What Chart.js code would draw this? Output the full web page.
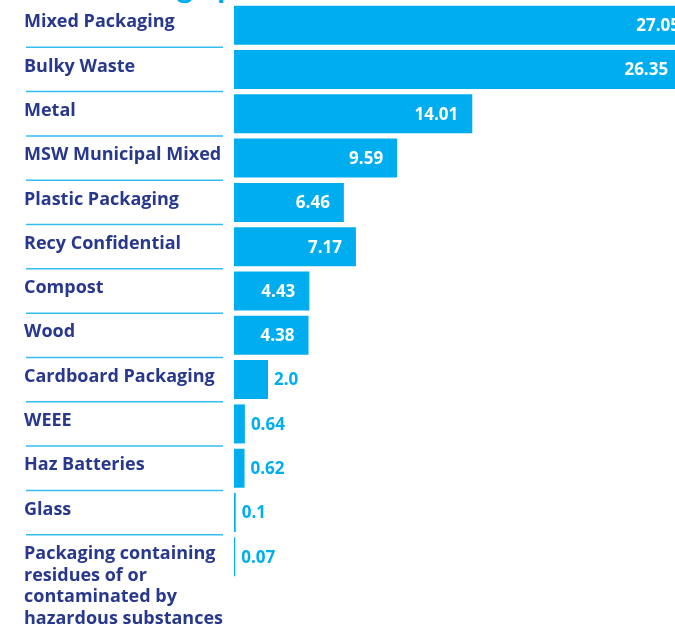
<!DOCTYPE html>
<html>
<head>
<meta charset="utf-8">
<script src="https://cdn.jsdelivr.net/npm/chart.js@4.4.0/dist/chart.umd.min.js"></script>
<style>
    html, body { margin: 0; padding: 0; background: #fff; overflow: hidden; }
    #wrap { position: relative; width: 675px; height: 624px; overflow: hidden; }
    #title { position: absolute; left: 0; top: -34px; font: bold 28px "Open Sans"; color: #00aeef; white-space: nowrap; }
    #chart-box { position: absolute; left: 0; top: 0; width: 700px; height: 624px; }
</style>
</head>
<body>
<div id="wrap">
    <div id="title">Waste tonnage per material (tonnes)</div>
    <div id="chart-box"><canvas id="wasteChart"></canvas></div>
</div>
<script>
// Tonnes collected per waste stream
const materials = [
    'Mixed Packaging',
    'Bulky Waste',
    'Metal',
    'MSW Municipal Mixed',
    'Plastic Packaging',
    'Recy Confidential',
    'Compost',
    'Wood',
    'Cardboard Packaging',
    'WEEE',
    'Haz Batteries',
    'Glass',
    ['Packaging containing', 'residues of or', 'contaminated by', 'hazardous substances']
];
const tonnes = [27.05, 26.35, 14.01, 9.59, 6.46, 7.17, 4.43, 4.38, 2.0, 0.64, 0.62, 0.1, 0.07];

const barBlue = '#00aeef';
const navy = '#28388c';

// labels like 2.0 keep their decimal
const valueText = tonnes.map(v => Number.isInteger(v) ? v.toFixed(1) : String(v));

const valueLabels = {
    id: 'valueLabels',
    afterDatasetsDraw(chart) {
        const ctx = chart.ctx;
        const meta = chart.getDatasetMeta(0);
        ctx.save();
        ctx.font = 'bold 17px "Open Sans"';
        ctx.textBaseline = 'middle';
        meta.data.forEach((bar, i) => {
            const w = bar.x - bar.base;
            if (w > 60) {
                ctx.fillStyle = '#ffffff';
                ctx.textAlign = 'right';
                ctx.fillText(valueText[i], bar.x - 14, bar.y + 1);
            } else {
                ctx.fillStyle = barBlue;
                ctx.textAlign = 'left';
                ctx.fillText(valueText[i], bar.x + 6, bar.y + 1);
            }
        });
        ctx.restore();
    }
};

// thin rules between the category names
const rowRules = {
    id: 'rowRules',
    afterDraw(chart) {
        const ctx = chart.ctx;
        const y = chart.scales.y;
        ctx.save();
        ctx.strokeStyle = '#35bdf1';
        ctx.lineWidth = 1.5;
        for (let i = 0; i < materials.length - 1; i++) {
            const py = (y.getPixelForValue(i) + y.getPixelForValue(i + 1)) / 2;
            ctx.beginPath();
            ctx.moveTo(26, py);
            ctx.lineTo(223, py);
            ctx.stroke();
        }
        ctx.restore();
    }
};

const ctx = document.getElementById('wasteChart').getContext('2d');
const wasteChart = new Chart(ctx, {
    type: 'bar',
    data: {
        labels: materials,
        datasets: [{
            data: tonnes,
            backgroundColor: barBlue,
            borderWidth: 0,
            barPercentage: 0.88,
            categoryPercentage: 1.0
        }]
    },
    options: {
        indexAxis: 'y',
        responsive: true,
        maintainAspectRatio: false,
        animation: false,
        layout: {
            padding: { left: 24, top: 3, bottom: 45, right: 0 }
        },
        plugins: {
            legend: { display: false },
            tooltip: { enabled: false }
        },
        scales: {
            x: {
                display: false,
                min: 0,
                max: 27.4
            },
            y: {
                grid: { display: false },
                border: { display: false },
                afterFit(scale) {
                    scale.width = 210;
                    // the wrapped last name may hang below the plot
                    scale.paddingTop = 0;
                    scale.paddingBottom = 0;
                },
                ticks: {
                    autoSkip: false,
                    crossAlign: 'far',
                    padding: 0,
                    labelOffset: -3,
                    color: navy,
                    font: { family: 'Open Sans', weight: 'bold', size: 18, lineHeight: 1.2 },
                    callback: function(value, index) {
                        const lbl = materials[index];
                        // long names start on the row line and wrap downwards
                        if (Array.isArray(lbl)) {
                            return Array(lbl.length - 1).fill('').concat(lbl);
                        }
                        return lbl;
                    }
                }
            }
        }
    },
    plugins: [valueLabels, rowRules]
});
</script>
</body>
</html>
